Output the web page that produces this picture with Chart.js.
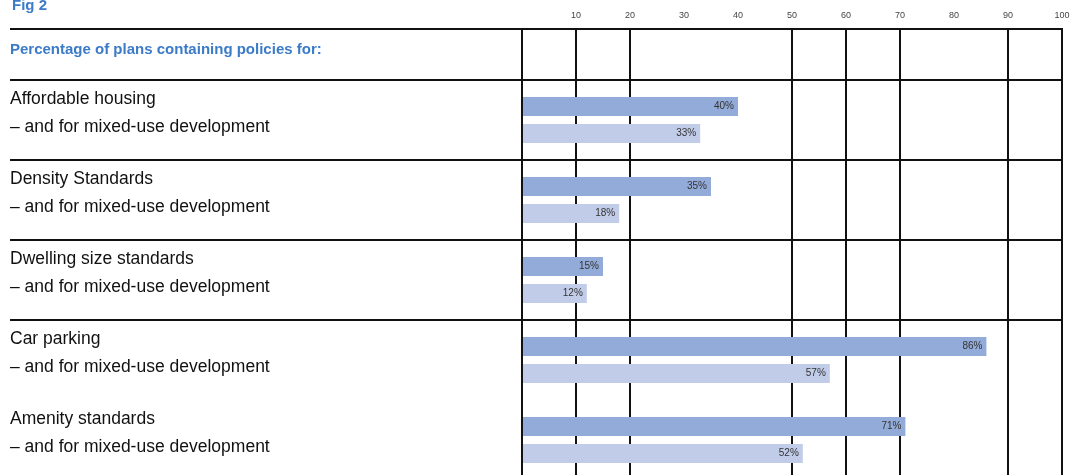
<!DOCTYPE html>
<html>
<head>
<meta charset="utf-8">
<script src="https://cdn.jsdelivr.net/npm/chart.js@4"></script>
<style>
  html, body { margin: 0; padding: 0; background: #fff; overflow: hidden; }
  #wrap { width: 1070px; height: 482px; }
</style>
</head>
<body>
<div id="wrap"><canvas id="fig2"></canvas></div>
<script>
const figTitle = "Fig 2";
const headerText = "Percentage of plans containing policies for:";
const policies = ["Affordable housing", "Density Standards", "Dwelling size standards", "Car parking", "Amenity standards"];
const subLabel = "– and for mixed-use development";
const allPlans = [40, 35, 15, 86, 71];
const mixedUse = [33, 18, 12, 57, 52];
const gridShown = [0, 10, 20, 50, 60, 70, 90, 100];
const ruleAbove = [true, true, true, true, false];

const LINE = "#111";
const BLUE = "#3b7bc8";

// header text, horizontal rules across the label column, value labels
const framePlugin = {
	id: "frame",
	afterDraw(chart) {
		const { ctx, chartArea, scales } = chart;
		const x = scales.x, y = scales.y;
		const left = chart.options.layout.padding.left;
		const topRule = chartArea.top - x.options.grid.tickLength;
		ctx.save();
		ctx.strokeStyle = LINE;
		ctx.lineWidth = 2;
		const rule = (yy) => {
			ctx.beginPath();
			ctx.moveTo(left, yy);
			ctx.lineTo(chartArea.right + 1, yy);
			ctx.stroke();
		};
		rule(topRule);
		const half = (y.getPixelForValue(1) - y.getPixelForValue(0)) / 2;
		ruleAbove.forEach((on, i) => {
			if (on) rule(y.getPixelForValue(i) - half);
		});
		rule(chartArea.bottom);

		ctx.fillStyle = BLUE;
		ctx.font = "bold 15px 'Liberation Sans'";
		ctx.textBaseline = "alphabetic";
		ctx.fillText(figTitle, left + 2, 10);
		ctx.textBaseline = "middle";
		ctx.fillText(headerText, left, topRule + 21);
		ctx.restore();
	},
	afterDatasetsDraw(chart) {
		const { ctx } = chart;
		ctx.save();
		ctx.fillStyle = "#333";
		ctx.font = "10px 'Liberation Sans'";
		ctx.textAlign = "right";
		ctx.textBaseline = "middle";
		chart.data.datasets.forEach((ds, di) => {
			chart.getDatasetMeta(di).data.forEach((bar, i) => {
				ctx.fillText(ds.data[i] + "%", bar.x - 4, bar.y);
			});
		});
		ctx.restore();
	},
};

new Chart(document.getElementById("fig2"), {
	type: "bar",
	data: {
		labels: policies.map((p) => [p, subLabel]),
		datasets: [
			{
				label: "All plans",
				data: allPlans,
				backgroundColor: "#93abd8",
				categoryPercentage: 0.675,
				barPercentage: 0.7,
			},
			{
				label: subLabel,
				data: mixedUse,
				backgroundColor: "#c1cce9",
				categoryPercentage: 0.675,
				barPercentage: 0.7,
			},
		],
	},
	options: {
		indexAxis: "y",
		responsive: true,
		maintainAspectRatio: false,
		animation: false,
		layout: {
			padding: { left: 10, right: 8, top: 0, bottom: 2 },
		},
		plugins: {
			legend: { display: false },
			tooltip: { enabled: false },
		},
		scales: {
			x: {
				position: "top",
				min: 0,
				max: 100,
				border: { display: false },
				grid: {
					lineWidth: 2,
					tickLength: 51,
					color: (c) => (c.tick && gridShown.includes(c.tick.value) ? LINE : "rgba(0,0,0,0)"),
				},
				ticks: {
					stepSize: 10,
					padding: 8,
					color: "#444",
					font: { family: "'Liberation Sans'", size: 9 },
					callback: (v) => (v === 0 ? "" : v),
				},
				afterFit: (scale) => {
					scale.height = 80;
					scale.paddingLeft = 0;
					scale.paddingRight = 0;
				},
			},
			y: {
				border: { display: false },
				grid: { display: false },
				afterFit: (scale) => {
					scale.width = 512;
					scale.paddingTop = 0;
					scale.paddingBottom = 0;
				},
				ticks: {
					crossAlign: "far",
					labelOffset: -7,
					color: "#111",
					font: { family: "'Liberation Sans'", size: 17.5, lineHeight: 1.6 },
				},
			},
		},
	},
	plugins: [framePlugin],
});
</script>
</body>
</html>
